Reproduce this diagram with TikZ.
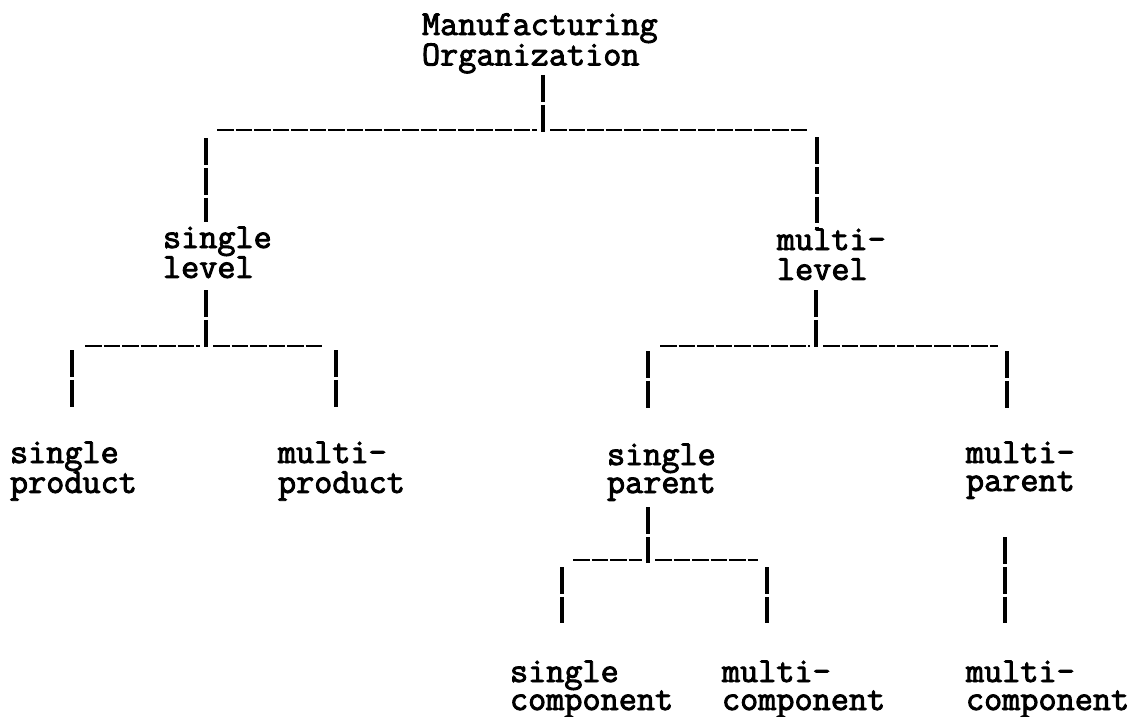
\documentclass[tikz,border=0pt]{standalone}
\usepackage{fontspec}
\newfontfamily\typewfont[FakeBold=2.6]{Latin Modern Mono}
\newcommand{\twoline}[2]{\begin{tabular}[t]{@{}l@{}}#1\\#2\end{tabular}}
\begin{document}
\begin{tikzpicture}[x=0.75pt,y=-0.75pt,
  lbl/.style={anchor=base west,inner sep=0pt,outer sep=0pt,
    font=\fontsize{26.4}{21.0}\selectfont\typewfont\bfseries,text=black},
  vbar/.style={line width=2.6pt,dash pattern=on 20pt off 2.4pt},
  hbar/.style={line width=2pt,dash pattern=on 12.4pt off 1.5pt}]
\useasboundingbox (0,0) rectangle (1132,717);
\fill[white] (0,0) rectangle (1132,717);
% nodes
\node[lbl] (root) at (422,35) {\twoline{Manufacturing}{Organization}};
\node[lbl] (sl) at (163,248) {\twoline{single}{level}};
\node[lbl] (ml) at (777,250) {\twoline{multi-}{level}};
\node[lbl] (sp) at (10,463) {\twoline{single}{product}};
\node[lbl] (mp) at (278,463) {\twoline{multi-}{product}};
\node[lbl] (spa) at (607,465) {\twoline{single}{parent}};
\node[lbl] (mpa) at (966,463) {\twoline{multi-}{parent}};
\node[lbl] (sc) at (510,682) {\twoline{single}{component}};
\node[lbl] (mc) at (722,682) {\twoline{multi-}{component}};
\node[lbl] (mc2) at (966,682) {\twoline{multi-}{component}};
% junction coordinates
\coordinate (root-d) at (543,75);
\coordinate (j0) at (543,133);
\coordinate (b0l) at (217,130);
\coordinate (b0la) at (537,130);
\coordinate (b0ra) at (550,130);
\coordinate (b0r) at (808,130);
\coordinate (sl-u) at (206,138);
\coordinate (sl-t) at (206,222);
\coordinate (ml-u) at (817,137);
\coordinate (ml-t) at (817,230);
% single level subtree
\coordinate (sl-d) at (206,290);
\coordinate (j1) at (206,348);
\coordinate (b1l) at (85,346);
\coordinate (b1la) at (200,346);
\coordinate (b1ra) at (213,346);
\coordinate (b1r) at (323,346);
\coordinate (sp-u) at (72,350);
\coordinate (sp-t) at (72,407);
\coordinate (mp-u) at (336,350);
\coordinate (mp-t) at (336,407);
% multi level subtree
\coordinate (ml-d) at (816,290);
\coordinate (j2) at (816,348);
\coordinate (b2l) at (660,346);
\coordinate (b2la) at (810,346);
\coordinate (b2ra) at (823,346);
\coordinate (b2r) at (998,346);
\coordinate (spa-u) at (648,351);
\coordinate (spa-t) at (648,408);
\coordinate (mpa-u) at (1007,351);
\coordinate (mpa-t) at (1007,408);
% single parent subtree
\coordinate (spa-d) at (648,507);
\coordinate (j3) at (648,563);
\coordinate (b3l) at (573,560);
\coordinate (b3la) at (642,560);
\coordinate (b3ra) at (655,560);
\coordinate (b3r) at (758,560);
\coordinate (sc-u) at (562,567);
\coordinate (sc-t) at (562,623);
\coordinate (mc-u) at (767,567);
\coordinate (mc-t) at (767,623);
% multi parent
\coordinate (mpa-d) at (1005,537);
\coordinate (mc2-t) at (1005,623);
% connectors
\draw[vbar] (root-d) -- (j0);
\draw[hbar] (b0l) -- (b0la);
\draw[hbar] (b0ra) -- (b0r);
\draw[vbar] (sl-u) -- (sl-t);
\draw[vbar] (ml-u) -- (ml-t);
\draw[vbar] (sl-d) -- (j1);
\draw[hbar] (b1l) -- (b1la);
\draw[hbar] (b1ra) -- (b1r);
\draw[vbar] (sp-u) -- (sp-t);
\draw[vbar] (mp-u) -- (mp-t);
\draw[vbar] (ml-d) -- (j2);
\draw[hbar] (b2l) -- (b2la);
\draw[hbar] (b2ra) -- (b2r);
\draw[vbar] (spa-u) -- (spa-t);
\draw[vbar] (mpa-u) -- (mpa-t);
\draw[vbar] (spa-d) -- (j3);
\draw[hbar] (b3l) -- (b3la);
\draw[hbar] (b3ra) -- (b3r);
\draw[vbar] (sc-u) -- (sc-t);
\draw[vbar] (mc-u) -- (mc-t);
\draw[vbar] (mpa-d) -- (mc2-t);
\end{tikzpicture}
\end{document}
